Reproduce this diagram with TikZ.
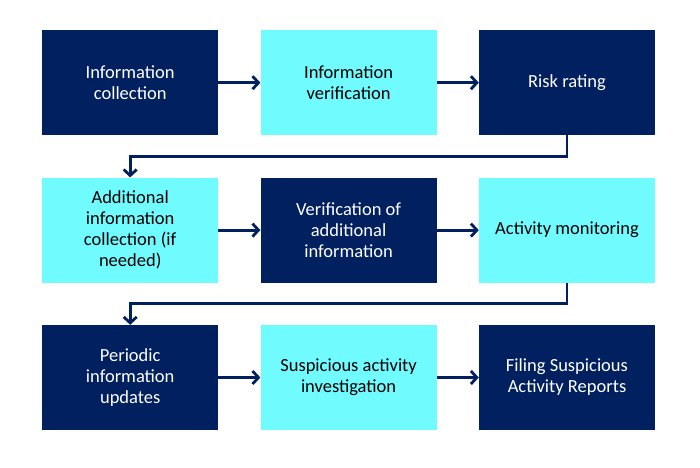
\documentclass[tikz,border=0pt]{standalone}
\usepackage{fontspec}
\setmainfont{Carlito}
\usetikzlibrary{positioning,arrows.meta}
\definecolor{navy}{RGB}{0,32,96}
\definecolor{aqua}{RGB}{112,251,255}
\tikzset{
  darkbox/.style={fill=navy,text=white,minimum width=176pt,minimum height=105pt,
    inner sep=2pt,align=center,font=\fontsize{18.5}{21}\selectfont},
  lightbox/.style={darkbox,fill=aqua,text=black},
  conn/.style={draw=navy,line width=2.8pt,-{Straight Barb[length=6pt,width=13pt,line width=2.8pt]}}
}
\begin{document}
\begin{tikzpicture}[x=1pt,y=1pt,node distance=42pt and 42pt]
  \useasboundingbox (0,0) rectangle (700,-467);
  % first row
  \node[darkbox,anchor=north west] (collect) at (42,-30) {Information\\collection};
  \node[lightbox,right=of collect] (verify) {Information\\verification};
  \node[darkbox,right=of verify] (risk) {Risk rating};
  % second row
  \node[lightbox,below=of collect] (addl) {Additional\\information\\collection (if\\needed)};
  \node[darkbox,right=of addl] (verifyaddl) {Verification of\\additional\\information};
  \node[lightbox,right=of verifyaddl] (monitor) {Activity monitoring};
  % third row
  \node[darkbox,below=of addl] (periodic) {Periodic\\information\\updates};
  \node[lightbox,right=of periodic] (suspect) {Suspicious activity\\investigation};
  \node[darkbox,right=of suspect] (filing) {Filing Suspicious\\Activity Reports};
  % connectors
  \draw[conn] (collect) -- (verify);
  \draw[conn] (verify) -- (risk);
  \draw[conn] (risk.south) -- ++(0,-21) -| (addl.north);
  \draw[conn] (addl) -- (verifyaddl);
  \draw[conn] (verifyaddl) -- (monitor);
  \draw[conn] (monitor.south) -- ++(0,-21) -| (periodic.north);
  \draw[conn] (periodic) -- (suspect);
  \draw[conn] (suspect) -- (filing);
\end{tikzpicture}
\end{document}
